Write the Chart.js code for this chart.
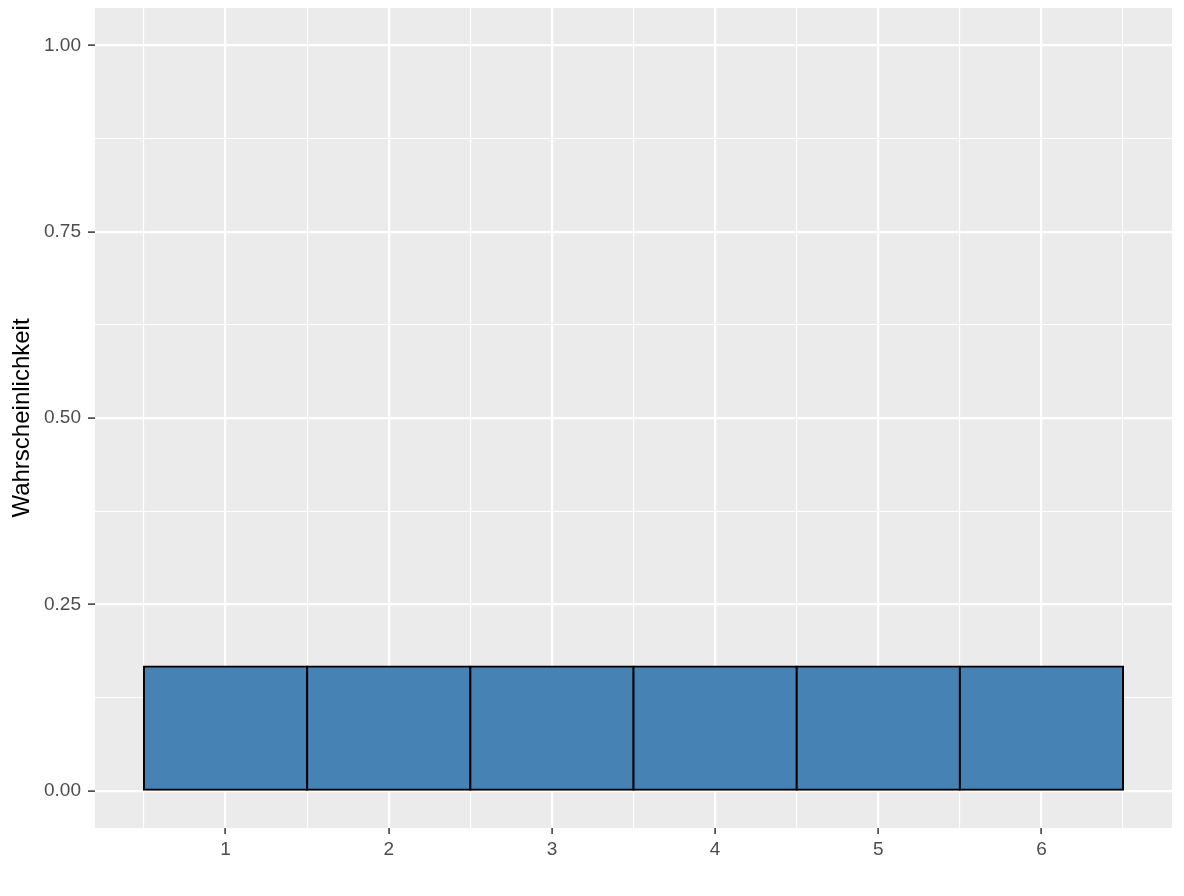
<!DOCTYPE html>
<html>
<head>
<meta charset="utf-8">
<script src="https://cdn.jsdelivr.net/npm/chart.js@4/dist/chart.umd.min.js"></script>
<style>
  html, body { margin: 0; padding: 0; background: #ffffff; }
  #wrap { width: 1184px; height: 896px; }
</style>
</head>
<body>
<div id="wrap"><canvas id="chart"></canvas></div>
<script>
'use strict';

// ── Data: fair die, each face 1/6 ──
const faces = [1, 2, 3, 4, 5, 6];
const probabilities = [1/6, 1/6, 1/6, 1/6, 1/6, 1/6];
const yTickValues = [0, 0.25, 0.5, 0.75, 1];
const yTitle = 'Wahrscheinlichkeit';

const TEXT_COLOR = '#4d4d4d';
const PANEL_BG   = '#ebebeb';
const FONT = 'Liberation Sans, Arial, sans-serif';

// gray panel behind the plot area (ggplot look)
const panelBackground = {
  id: 'panelBackground',
  beforeDraw(chart) {
    const { ctx, chartArea: a } = chart;
    ctx.save();
    ctx.fillStyle = PANEL_BG;
    ctx.fillRect(a.left, a.top, a.right - a.left, a.bottom - a.top);
    ctx.restore();
  },
};

const tickVal = (c) => (c && c.tick ? c.tick.value : NaN);
const xMajor = (c) => Number.isInteger(tickVal(c));
const yMajor = (c) => yTickValues.some(t => Math.abs(t - tickVal(c)) < 1e-9);

new Chart(document.getElementById('chart'), {
  type: 'bar',
  data: {
    datasets: [{
      data: faces.map((f, i) => ({ x: f, y: probabilities[i] })),
      backgroundColor: '#4682b4',
      borderColor: '#000000',
      borderWidth: 2,
      borderSkipped: false,
      inflateAmount: 1,   // centre the outline on the bar edge, like ggplot
      // ticks sit every 0.5, so the sample size is half a unit: widen x2
      barPercentage: 1.0,
      categoryPercentage: 2.0,
    }],
  },
  options: {
    responsive: true,
    maintainAspectRatio: false,
    animation: false,
    layout: { padding: { top: 8, right: 12, left: 0, bottom: 0 } },
    plugins: {
      legend: { display: false },
      tooltip: { enabled: false },
    },
    scales: {
      x: {
        type: 'linear',
        min: 0.2,
        max: 6.8,
        offset: false,
        border: { display: false },
        afterBuildTicks: (scale) => {
          const t = [];
          faces.forEach(f => { t.push({ value: f - 0.5 }); t.push({ value: f }); });
          t.push({ value: faces[faces.length - 1] + 0.5 });
          scale.ticks = t;
        },
        afterFit: (scale) => {
          scale.height = 68;
          scale.paddingLeft = 0;
          scale.paddingRight = 0;
        },
        ticks: {
          color: TEXT_COLOR,
          font: { family: FONT, size: 19 },
          padding: 4,
          maxRotation: 0,
          autoSkip: false,
          callback: (v) => (Number.isInteger(v) ? String(v) : ''),
        },
        grid: {
          offset: false,
          color: '#ffffff',
          lineWidth: (c) => (xMajor(c) ? 2.2 : 1.1),
          tickColor: (c) => (xMajor(c) ? '#333333' : 'rgba(0,0,0,0)'),
          tickLength: 6,
          tickWidth: 1.5,
        },
      },
      y: {
        type: 'linear',
        min: -0.05,
        max: 1.05,
        border: { display: false },
        afterBuildTicks: (scale) => {
          const t = [];
          yTickValues.forEach((v, i) => {
            t.push({ value: v });
            if (i < yTickValues.length - 1) t.push({ value: (v + yTickValues[i + 1]) / 2 });
          });
          scale.ticks = t;
        },
        afterFit: (scale) => {
          scale.width = 95;
          scale.paddingTop = 0;
          scale.paddingBottom = 0;
        },
        title: {
          display: true,
          text: yTitle,
          color: '#000000',
          font: { family: FONT, size: 24 },
          padding: { top: 8, bottom: 0 },
        },
        ticks: {
          color: TEXT_COLOR,
          font: { family: FONT, size: 19 },
          padding: 7,
          autoSkip: false,
          callback: (v) => (yTickValues.some(t => Math.abs(t - v) < 1e-9) ? v.toFixed(2) : ''),
        },
        grid: {
          color: '#ffffff',
          lineWidth: (c) => (yMajor(c) ? 2.2 : 1.1),
          tickColor: (c) => (yMajor(c) ? '#333333' : 'rgba(0,0,0,0)'),
          tickLength: 7,
          tickWidth: 1.5,
        },
      },
    },
  },
  plugins: [panelBackground],
});
</script>
</body>
</html>
